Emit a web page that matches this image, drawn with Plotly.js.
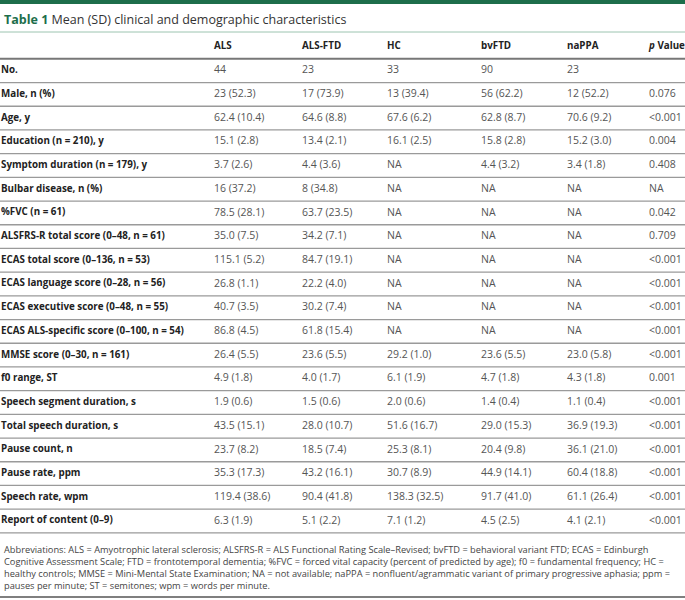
<!DOCTYPE html>
<html>
<head>
<meta charset="utf-8">
<script src="https://cdn.plot.ly/plotly-3.0.1.min.js"></script>
<style>
  html, body { margin: 0; padding: 0; background: #ffffff; }
  #chart { width: 685px; height: 600px; }
</style>
</head>
<body>
<div id="chart"></div>
<script>
const headers = ["", "ALS", "ALS-FTD", "HC", "bvFTD", "naPPA", "<i>p</i> Value"];

const labels = [
  "No.",
  "Male, n (%)",
  "Age, y",
  "Education (n = 210), y",
  "Symptom duration (n = 179), y",
  "Bulbar disease, n (%)",
  "%FVC (n = 61)",
  "ALSFRS-R total score (0–48, n = 61)",
  "ECAS total score (0–136, n = 53)",
  "ECAS language score (0–28, n = 56)",
  "ECAS executive score (0–48, n = 55)",
  "ECAS ALS-specific score (0–100, n = 54)",
  "MMSE score (0–30, n = 161)",
  "f0 range, ST",
  "Speech segment duration, s",
  "Total speech duration, s",
  "Pause count, n",
  "Pause rate, ppm",
  "Speech rate, wpm",
  "Report of content (0–9)",
];

const als = ["44", "23 (52.3)", "62.4 (10.4)", "15.1 (2.8)", "3.7 (2.6)", "16 (37.2)", "78.5 (28.1)",
  "35.0 (7.5)", "115.1 (5.2)", "26.8 (1.1)", "40.7 (3.5)", "86.8 (4.5)", "26.4 (5.5)", "4.9 (1.8)",
  "1.9 (0.6)", "43.5 (15.1)", "23.7 (8.2)", "35.3 (17.3)", "119.4 (38.6)", "6.3 (1.9)"];

const alsFtd = ["23", "17 (73.9)", "64.6 (8.8)", "13.4 (2.1)", "4.4 (3.6)", "8 (34.8)", "63.7 (23.5)",
  "34.2 (7.1)", "84.7 (19.1)", "22.2 (4.0)", "30.2 (7.4)", "61.8 (15.4)", "23.6 (5.5)", "4.0 (1.7)",
  "1.5 (0.6)", "28.0 (10.7)", "18.5 (7.4)", "43.2 (16.1)", "90.4 (41.8)", "5.1 (2.2)"];

const hc = ["33", "13 (39.4)", "67.6 (6.2)", "16.1 (2.5)", "NA", "NA", "NA",
  "NA", "NA", "NA", "NA", "NA", "29.2 (1.0)", "6.1 (1.9)",
  "2.0 (0.6)", "51.6 (16.7)", "25.3 (8.1)", "30.7 (8.9)", "138.3 (32.5)", "7.1 (1.2)"];

const bvftd = ["90", "56 (62.2)", "62.8 (8.7)", "15.8 (2.8)", "4.4 (3.2)", "NA", "NA",
  "NA", "NA", "NA", "NA", "NA", "23.6 (5.5)", "4.7 (1.8)",
  "1.4 (0.4)", "29.0 (15.3)", "20.4 (9.8)", "44.9 (14.1)", "91.7 (41.0)", "4.5 (2.5)"];

const nappa = ["23", "12 (52.2)", "70.6 (9.2)", "15.2 (3.0)", "3.4 (1.8)", "NA", "NA",
  "NA", "NA", "NA", "NA", "NA", "23.0 (5.8)", "4.3 (1.8)",
  "1.1 (0.4)", "36.9 (19.3)", "36.1 (21.0)", "60.4 (18.8)", "61.1 (26.4)", "4.1 (2.1)"];

const pValues = ["", "0.076", "&lt;0.001", "0.004", "0.408", "NA", "0.042",
  "0.709", "&lt;0.001", "&lt;0.001", "&lt;0.001", "&lt;0.001", "&lt;0.001", "0.001",
  "&lt;0.001", "&lt;0.001", "&lt;0.001", "&lt;0.001", "&lt;0.001", "&lt;0.001"];

const abbreviations = [
  "Abbreviations: ALS = Amyotrophic lateral sclerosis; ALSFRS-R = ALS Functional Rating Scale–Revised; bvFTD = behavioral variant FTD; ECAS = Edinburgh",
  "Cognitive Assessment Scale; FTD = frontotemporal dementia; %FVC = forced vital capacity (percent of predicted by age); f0 = fundamental frequency; HC =",
  "healthy controls; MMSE = Mini-Mental State Examination; NA = not available; naPPA = nonfluent/agrammatic variant of primary progressive aphasia; ppm =",
  "pauses per minute; ST = semitones; wpm = words per minute.",
];

// layout constants
const colX = [1, 214, 302, 387, 481, 567, 649];
const rowPitch = 23.7;
const headerPx = 47;
const fontFamily = "'Open Sans', 'DejaVu Sans', sans-serif";
const green = "#1d6e4b";

function textTrace(values, col, rowOffset, font) {
  return {
    x: values.map(() => colX[col]),
    y: values.map((_, i) => i + rowOffset),
    text: values,
    type: "scatter",
    mode: "text",
    textposition: "middle right",
    textfont: font,
    hoverinfo: "skip",
    showlegend: false,
  };
}

const labelFont = { family: fontFamily, size: 9.8, color: "#222222", weight: 700 };
const valueFont = { family: fontFamily, size: 10.5, color: "#555555" };

const traces = [
  textTrace(headers, 0, 0, labelFont),
  textTrace(labels, 0, 1, labelFont),
  textTrace(als, 1, 1, valueFont),
  textTrace(alsFtd, 2, 1, valueFont),
  textTrace(hc, 3, 1, valueFont),
  textTrace(bvftd, 4, 1, valueFont),
  textTrace(nappa, 5, 1, valueFont),
  textTrace(pValues, 6, 1, valueFont),
];
// headers are on one row, spread across columns
traces[0].x = headers.map((_, i) => colX[i]);
traces[0].y = headers.map(() => 0);

const shapes = [
  { type: "rect", xref: "paper", yref: "paper", x0: 0, x1: 1, y0: 1 - 4 / 600, y1: 1,
    fillcolor: green, line: { width: 0 } },
  { type: "line", xref: "paper", yref: "paper", x0: 0, x1: 1, y0: 1 - 32 / 600, y1: 1 - 32 / 600,
    line: { color: "#9cc4b0", width: 1 } },
  { type: "line", xref: "paper", yref: "paper", x0: 0, x1: 1, y0: 1 - 597 / 600, y1: 1 - 597 / 600,
    line: { color: "#555555", width: 1.5 } },
];
for (let i = 0; i <= labels.length; i++) {
  shapes.push({
    type: "line", xref: "paper", yref: "y", x0: 0, x1: 1, y0: i + 0.5, y1: i + 0.5,
    line: { color: i === 0 ? "#777777" : "#9a9a9a", width: i === 0 ? 2 : 1.3 },
  });
}

const layout = {
  width: 685,
  height: 600,
  margin: { l: 0, r: 0, t: 0, b: 0 },
  paper_bgcolor: "#ffffff",
  plot_bgcolor: "#ffffff",
  xaxis: { range: [0, 685], visible: false, fixedrange: true },
  yaxis: { range: [(600 - headerPx) / rowPitch, -headerPx / rowPitch], visible: false, fixedrange: true },
  shapes: shapes,
  annotations: [
    {
      xref: "paper", yref: "paper", x: 0.003, y: 1 - 20 / 600, xanchor: "left", yanchor: "middle",
      showarrow: false,
      text: "<b><span style='color:" + green + "'>Table 1</span></b> Mean (SD) clinical and demographic characteristics",
      font: { family: fontFamily, size: 12.5, color: "#333333" },
    },
    {
      xref: "paper", yref: "paper", x: 0.003, y: 1 - 541 / 600, xanchor: "left", yanchor: "top",
      align: "left", showarrow: false,
      text: abbreviations.join("<br>"),
      font: { family: fontFamily, size: 9.25, color: "#444444" },
    },
  ],
  showlegend: false,
};

Plotly.newPlot("chart", traces, layout, { staticPlot: true, displayModeBar: false });
</script>
</body>
</html>
